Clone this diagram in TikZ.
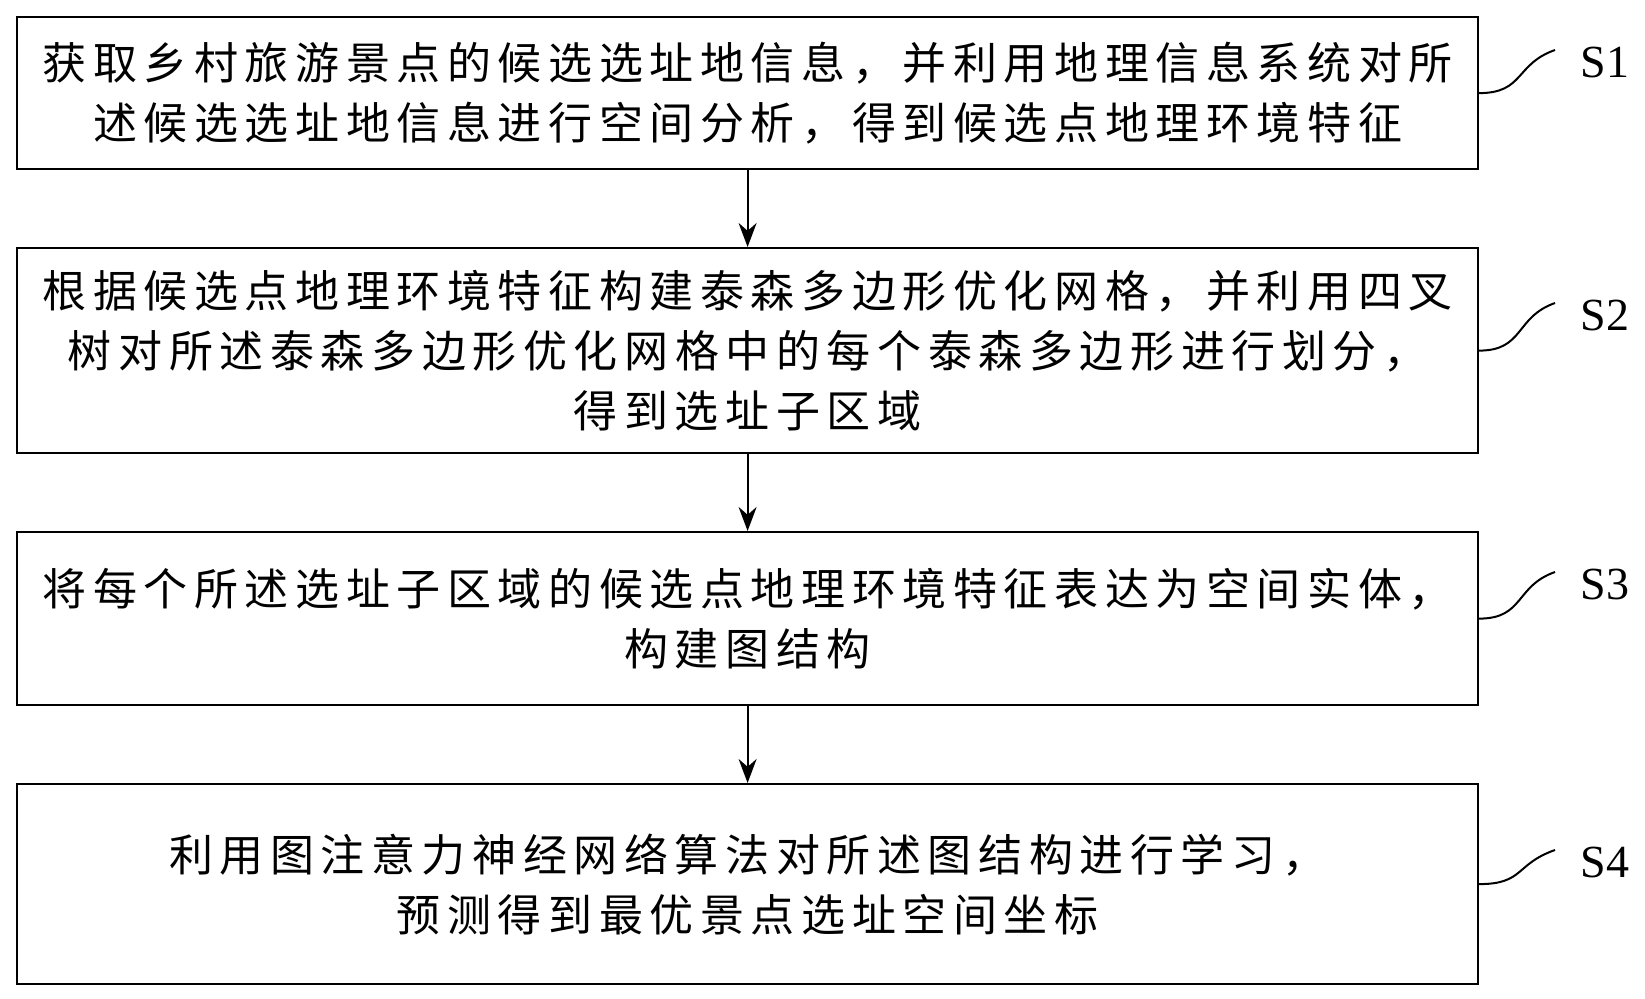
\documentclass[tikz,border=0pt]{standalone}
\usepackage{fontspec}
\usetikzlibrary{arrows.meta}
\newfontfamily\cjk[LetterSpace=15]{Noto Sans CJK SC}
\setmainfont{Liberation Serif}
\begin{document}
\begin{tikzpicture}[x=1pt,y=-1pt,
 box/.style={draw,line width=2.2pt,minimum width=1461pt,align=center,font=\cjk\fontsize{44}{60}\selectfont,anchor=north west,inner sep=0pt},
 lab/.style={font=\fontsize{46}{50}\selectfont},
 arr/.style={line width=2pt,-{Stealth[length=24pt,width=18pt]}}]
\useasboundingbox (0,0) rectangle (1645,998);
\node[box,minimum height=152pt] (b1) at (16,16) {获取乡村旅游景点的候选选址地信息，并利用地理信息系统对所\\述候选选址地信息进行空间分析，得到候选点地理环境特征};
\node[box,minimum height=205pt] (b2) at (16,247) {根据候选点地理环境特征构建泰森多边形优化网格，并利用四叉\\树对所述泰森多边形优化网格中的每个泰森多边形进行划分，\\得到选址子区域};
\node[box,minimum height=173pt] (b3) at (16,531) {将每个所述选址子区域的候选点地理环境特征表达为空间实体，\\构建图结构};
\node[box,minimum height=200pt] (b4) at (16,783) {利用图注意力神经网络算法对所述图结构进行学习，\\预测得到最优景点选址空间坐标};
\draw[arr] (b1.south) -- (b2.north);
\draw[arr] (b2.south) -- (b3.north);
\draw[arr] (b3.south) -- (b4.north);
\foreach \b/\s/\y in {b1/S1/62,b2/S2/315,b3/S3/584,b4/S4/862}{
 \node[lab] (l\s) at (1605,\y) {\s};
 \draw[line width=2pt] (\b.east) .. controls +(45,0) and +(-40,14) .. (1555,\y-12);
}
\end{tikzpicture}
\end{document}
